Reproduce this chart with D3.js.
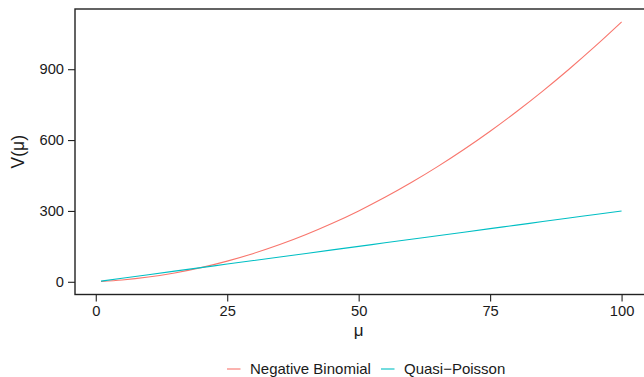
<!DOCTYPE html>
<html lang="en">
  <head>
    <meta charset="UTF-8" />
    <title>Variance functions</title>
    <style>
      body { margin: 0; background: #fff; }
      svg text { font-family: "Liberation Sans", Arial, sans-serif; fill: #1a1a1a; }
    </style>
  </head>
  <body>
    <svg id="chart" width="644" height="377"></svg>
  </body>
  <script src="https://cdn.jsdelivr.net/npm/d3@7"></script>
  <script>
    // values
    let mu = [1, 5, 10, 15, 20, 25, 30, 35, 40, 45, 50, 55, 60, 65, 70, 75, 80, 85, 90, 95, 100];
    let negBinomial = [1.1, 7.5, 20, 37.5, 60, 87.5, 120, 157.5, 200, 247.5, 300, 357.5, 420,
      487.5, 560, 637.5, 720, 807.5, 900, 997.5, 1100];
    let quasiPoisson = [3, 15, 30, 45, 60, 75, 90, 105, 120, 135, 150, 165, 180, 195, 210, 225,
      240, 255, 270, 285, 300];
    let seriesNames = ["Negative Binomial", "Quasi\u2212Poisson"];
    let seriesColors = ["#F8766D", "#00BFC4"];
    let xTicks = [0, 25, 50, 75, 100];
    let yTicks = [0, 300, 600, 900];

    let svg = d3.select("#chart");
    let panelLeft = 75, panelRight = 647.6, panelTop = 9, panelBottom = 294.5;

    // ggplot-style 5% expansion
    let xScale = d3.scaleLinear().domain([-3.95, 104.95]).range([panelLeft, panelRight]);
    let yScale = d3.scaleLinear().domain([-53.8, 1154.9]).range([panelBottom, panelTop]);

    let series = [negBinomial, quasiPoisson];
    let line = d3.line()
      .x((d, i) => xScale(mu[i]))
      .y((d) => yScale(d))
      .curve(d3.curveMonotoneX);

    svg.selectAll("path.series")
      .data(series)
      .enter()
      .append("path")
      .attr("class", "series")
      .attr("d", line)
      .attr("fill", "none")
      .attr("stroke", (d, i) => seriesColors[i])
      .attr("stroke-width", 1.1);

    // panel border
    svg.append("rect")
      .attr("x", panelLeft).attr("y", panelTop)
      .attr("width", panelRight - panelLeft).attr("height", panelBottom - panelTop)
      .attr("fill", "none").attr("stroke", "#222").attr("stroke-width", 1.4);

    // axes
    let xAxis = d3.axisBottom(xScale).tickValues(xTicks).tickSize(7).tickPadding(4);
    let gx = svg.append("g").attr("transform", `translate(0,${panelBottom})`).call(xAxis);
    let yAxis = d3.axisLeft(yScale).tickValues(yTicks).tickSize(7).tickPadding(4);
    let gy = svg.append("g").attr("transform", `translate(${panelLeft},0)`).call(yAxis);
    [gx, gy].forEach((g) => {
      g.select(".domain").remove();
      g.selectAll(".tick line").attr("stroke", "#222").attr("stroke-width", 1.1);
      g.selectAll(".tick text").attr("font-size", 14.7).attr("fill", "#1a1a1a")
        .style("font-family", '"Liberation Sans", Arial, sans-serif');
    });

    // axis titles
    svg.append("text")
      .attr("x", xScale(50)).attr("y", 336)
      .attr("text-anchor", "middle").attr("font-size", 17)
      .text("\u03bc");
    svg.append("text")
      .attr("transform", `translate(24,${(panelTop + panelBottom) / 2}) rotate(-90)`)
      .attr("text-anchor", "middle").attr("font-size", 17.5)
      .text("V(\u03bc)");

    // legend
    let legendX = [227, 381];
    let legend = svg.selectAll("g.legend")
      .data(seriesNames)
      .enter()
      .append("g")
      .attr("class", "legend")
      .attr("transform", (d, i) => `translate(${legendX[i]},369)`);
    legend.append("line")
      .attr("x1", 0).attr("x2", 13.5)
      .attr("stroke", (d, i) => seriesColors[i]).attr("stroke-width", 1.1);
    legend.append("text")
      .attr("x", 23).attr("y", 5)
      .attr("font-size", 15)
      .text((d) => d);
  </script>
</html>
